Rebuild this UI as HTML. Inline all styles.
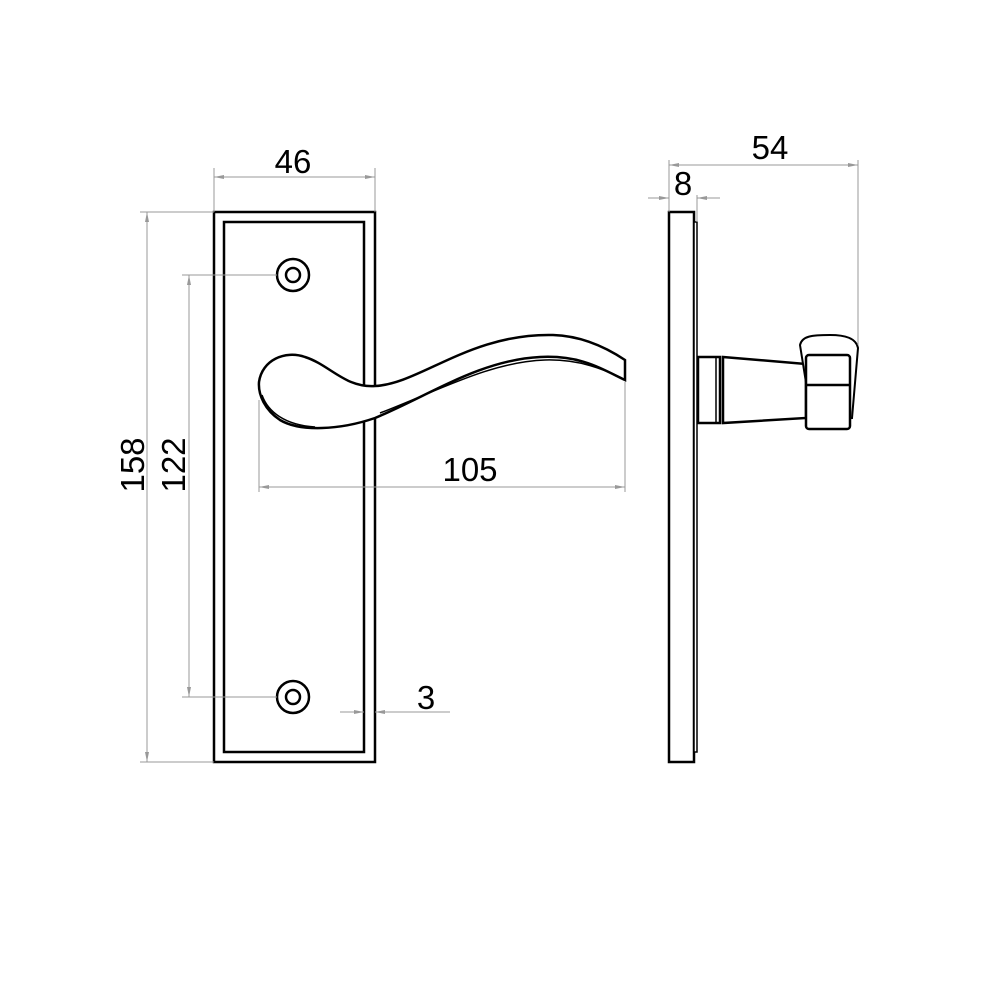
<!DOCTYPE html>
<html><head><style>html,body{margin:0;background:#fff}</style></head><body>
<svg width="1000" height="1000" viewBox="0 0 1000 1000" xmlns="http://www.w3.org/2000/svg">
<defs>
<marker id="a" viewBox="0 0 10 6" refX="10" refY="3" markerWidth="10" markerHeight="6" orient="auto-start-reverse" markerUnits="userSpaceOnUse"><path d="M0,1 L10,3 L0,5 Z" fill="#999"/></marker>
</defs>
<g stroke="#000" stroke-width="2.5" fill="#fff">
<rect x="214" y="212" width="161" height="550"/>
<rect x="224" y="222" width="140" height="530"/>
<circle cx="293" cy="275" r="16"/><circle cx="293" cy="275" r="7"/>
<circle cx="293" cy="697" r="16"/><circle cx="293" cy="697" r="7"/>
<path d="M259,382 C262,360 285,350 305,357 C330,365 345,388 375,386 C420,384 470,333 553,335 C585,336 610,350 625,360 L625,380 C600,368 580,355 540,357 C480,360 430,395 375,418 C340,430 300,432 280,420 C265,410 258,395 259,382 Z"/>
<path d="M262,395 C268,412 285,425 315,427 M380,413 C440,390 490,362 545,360 C580,359 605,370 622,378" fill="none" stroke-width="1.5"/>
<rect x="669" y="212" width="25" height="550"/>
<rect x="694" y="222" width="3" height="530" stroke-width="1.5"/>
<rect x="698" y="357" width="22" height="66"/>
<line x1="716" y1="357" x2="716" y2="423" stroke-width="1.5"/>
<path d="M723,357 L806,364 L806,418 L723,423 Z"/>
<path d="M800,345 C802,336 812,335 830,335 C845,335 856,338 858,348 L852,418 L812,420 Z" stroke-width="2"/>
<rect x="806" y="355" width="44" height="74" rx="3"/>
<line x1="806" y1="385" x2="850" y2="385"/>
</g>
<g stroke="#999" stroke-width="1" fill="none">
<line x1="214" y1="168" x2="214" y2="212"/><line x1="375" y1="168" x2="375" y2="212"/>
<line x1="214" y1="177" x2="375" y2="177" marker-start="url(#a)" marker-end="url(#a)"/>
<line x1="140" y1="212" x2="214" y2="212"/><line x1="140" y1="762" x2="214" y2="762"/>
<line x1="147" y1="212" x2="147" y2="762" marker-start="url(#a)" marker-end="url(#a)"/>
<line x1="182" y1="275" x2="277" y2="275"/><line x1="182" y1="697" x2="277" y2="697"/>
<line x1="189" y1="275" x2="189" y2="697" marker-start="url(#a)" marker-end="url(#a)"/>
<line x1="259" y1="400" x2="259" y2="492"/><line x1="625" y1="382" x2="625" y2="492"/>
<line x1="259" y1="487" x2="625" y2="487" marker-start="url(#a)" marker-end="url(#a)"/>
<line x1="340" y1="712" x2="364" y2="712" marker-end="url(#a)"/>
<line x1="450" y1="712" x2="375" y2="712" marker-end="url(#a)"/>
<line x1="669" y1="160" x2="669" y2="212"/><line x1="858" y1="160" x2="858" y2="345"/>
<line x1="669" y1="165" x2="858" y2="165" marker-start="url(#a)" marker-end="url(#a)"/>
<line x1="697" y1="195" x2="697" y2="222"/>
<line x1="648" y1="198" x2="669" y2="198" marker-end="url(#a)"/>
<line x1="720" y1="198" x2="697" y2="198" marker-end="url(#a)"/>
</g>
<g font-family="Liberation Sans, sans-serif" font-size="33" fill="#000" text-anchor="middle">
<text x="293" y="173">46</text>
<text x="470" y="481">105</text>
<text x="426" y="709">3</text>
<text x="770" y="159">54</text>
<text x="683" y="195">8</text>
<text transform="translate(144,465) rotate(-90)">158</text>
<text transform="translate(185,465) rotate(-90)">122</text>
</g>
</svg>
</body></html>
